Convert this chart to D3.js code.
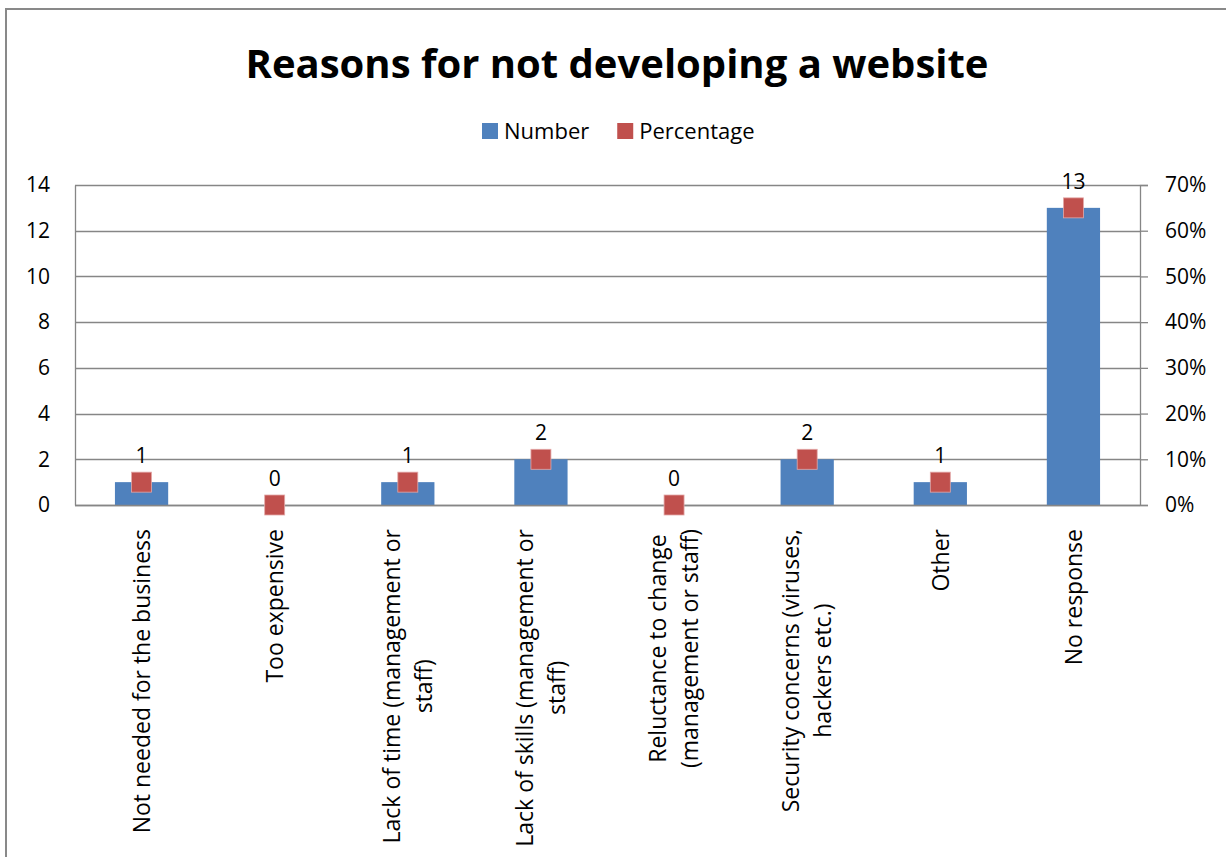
<!DOCTYPE html>
<html>
<head>
<meta charset="utf-8">
<script src="https://cdn.jsdelivr.net/npm/d3@7"></script>
<style>
  html, body { margin: 0; padding: 0; background: #fff; }
  svg { display: block; }
  text { font-family: "Open Sans", "Noto Sans", sans-serif; fill: #000; }
</style>
</head>
<body>
<svg id="chart" width="1226" height="857"></svg>
<script>
// Survey responses: reasons given for not developing a website
const categories = [
  "Not needed for the business",
  "Too expensive",
  "Lack of time (management or\nstaff)",
  "Lack of skills (management or\nstaff)",
  "Reluctance to change\n(management or staff)",
  "Security concerns (viruses,\nhackers etc.)",
  "Other",
  "No response"
];
const numbers = [1, 0, 1, 2, 0, 2, 1, 13];
const percentages = [0.05, 0, 0.05, 0.10, 0, 0.10, 0.05, 0.65];
const leftTicks = [0, 2, 4, 6, 8, 10, 12, 14];
const rightTicks = [0, 0.1, 0.2, 0.3, 0.4, 0.5, 0.6, 0.7];
const seriesNames = ["Number", "Percentage"];

const colors = { bar: "#4F81BD", marker: "#C0504D", grid: "#868686", frame: "#898989" };

const svg = d3.select("#chart");
const plot = { left: 75, right: 1140, top: 185, bottom: 505 };

// outer chart frame (runs past the window on the right and bottom)
svg.append("rect")
  .attr("x", 6).attr("y", 9).attr("width", 1260).attr("height", 900)
  .attr("fill", "none").attr("stroke", colors.frame).attr("stroke-width", 2);

// title
svg.append("text")
  .attr("x", 617).attr("y", 78)
  .attr("text-anchor", "middle")
  .style("font-weight", "bold").style("font-size", "40px")
  .text("Reasons for not developing a website");

// scales
const x = d3.scaleBand().domain(d3.range(categories.length))
  .range([plot.left, plot.right]).paddingInner(0).paddingOuter(0);
const yL = d3.scaleLinear().domain([0, 14]).range([plot.bottom, plot.top]);
const yR = d3.scaleLinear().domain([0, 0.7]).range([plot.bottom, plot.top]);
const cx = i => x(i) + x.bandwidth() / 2;

// horizontal gridlines
svg.append("g").selectAll("line").data(leftTicks).join("line")
  .attr("x1", plot.left).attr("x2", plot.right)
  .attr("y1", d => Math.round(yL(d)) + 0.5).attr("y2", d => Math.round(yL(d)) + 0.5)
  .attr("stroke", colors.grid).attr("stroke-width", 1.3);

// left axis
const axL = svg.append("g").attr("transform", `translate(${plot.left},0)`)
  .call(d3.axisLeft(yL).tickValues(leftTicks).tickSize(0).tickPadding(25));
axL.select(".domain").attr("stroke", colors.grid).attr("stroke-width", 1.3);
axL.selectAll("text").style("font-size", "21px").attr("fill", "#000");

// right axis
const axR = svg.append("g").attr("transform", `translate(${plot.right},0)`)
  .call(d3.axisRight(yR).tickValues(rightTicks).tickSize(8).tickPadding(17)
    .tickFormat(d3.format(".0%")));
axR.select(".domain").attr("stroke", colors.grid).attr("stroke-width", 1.3);
axR.selectAll(".tick line").attr("stroke", colors.grid).attr("stroke-width", 1.3);
axR.selectAll("text").style("font-size", "21px").attr("fill", "#000");

// bars (Number)
const barW = x.bandwidth() * 0.4;
svg.append("g").selectAll("rect").data(numbers).join("rect")
  .attr("x", (d, i) => cx(i) - barW / 2)
  .attr("y", d => yL(d))
  .attr("width", barW)
  .attr("height", d => yL(0) - yL(d))
  .attr("fill", colors.bar);

// bottom axis line drawn over the bars' base
svg.append("line")
  .attr("x1", plot.left).attr("x2", plot.right)
  .attr("y1", Math.round(yL(0)) + 0.5).attr("y2", Math.round(yL(0)) + 0.5)
  .attr("stroke", colors.grid).attr("stroke-width", 1.3);

// square markers (Percentage)
const m = 20;
svg.append("g").selectAll("rect").data(percentages).join("rect")
  .attr("x", (d, i) => cx(i) - m / 2)
  .attr("y", d => yR(d) - m / 2)
  .attr("width", m).attr("height", m)
  .attr("fill", colors.marker)
  .attr("stroke", "#E3A9A8").attr("stroke-width", 0.8);

// value labels
svg.append("g").selectAll("text").data(numbers).join("text")
  .attr("x", (d, i) => cx(i))
  .attr("y", d => yL(d) - 19)
  .attr("text-anchor", "middle")
  .style("font-size", "21px")
  .text(d => d);

// rotated category labels, lines centered within each block
const labelTop = 529, lineH = 32;
categories.forEach((c, i) => {
  const lines = c.split("\n");
  const g = svg.append("g").attr("transform", `translate(${cx(i)},${labelTop}) rotate(-90)`);
  const texts = g.selectAll("text").data(lines).join("text")
    .style("font-size", "23px")
    .attr("text-anchor", "middle")
    .attr("dy", "0.36em")
    .attr("y", (d, k) => (k - (lines.length - 1) / 2) * lineH)
    .text(d => d);
  let w = 0;
  texts.each(function () { w = Math.max(w, this.getComputedTextLength()); });
  texts.attr("x", -w / 2);
});

// legend
const legend = svg.append("g");
let lx = 482;
seriesNames.forEach((name, i) => {
  legend.append("rect")
    .attr("x", lx).attr("y", 123).attr("width", 16).attr("height", 16)
    .attr("fill", i === 0 ? colors.bar : colors.marker);
  const t = legend.append("text")
    .attr("x", lx + 22).attr("y", 139)
    .style("font-size", "22px")
    .text(name);
  lx += 22 + t.node().getComputedTextLength() + 28;
});
</script>
</body>
</html>
